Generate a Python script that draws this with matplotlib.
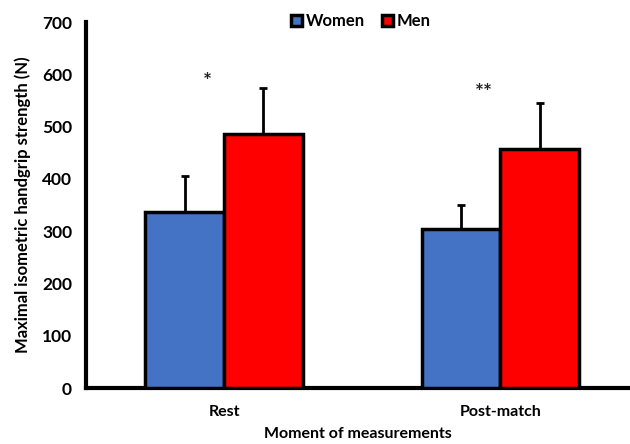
import matplotlib.pyplot as plt
import numpy as np

plt.rcParams['font.family'] = ['Lato', 'DejaVu Sans']
plt.rcParams['font.weight'] = 'bold'
plt.rcParams['axes.labelweight'] = 'bold'

# data
moments = ['Rest', 'Post-match']
women = [337, 304]
women_sd = [69, 47]
men = [487, 458]
men_sd = [88, 88]
stars = ['*', '**']
star_y = [585, 565]

fig = plt.figure(figsize=(6.3, 4.44), dpi=100)
ax = fig.add_axes([0.1365, 0.126, 0.8635, 0.824])

x = np.arange(len(moments))
w = 0.285
ax.bar(x - w / 2, women, w, color='#4472C4', edgecolor='black', linewidth=2.5,
       label='Women', zorder=3)
ax.bar(x + w / 2, men, w, color='#FF0000', edgecolor='black', linewidth=2.5,
       label='Men', zorder=3)
ax.errorbar(x - w / 2, women, yerr=[np.zeros(2), women_sd], fmt='none',
            ecolor='black', elinewidth=2, capsize=3, capthick=2, zorder=2)
ax.errorbar(x + w / 2, men, yerr=[np.zeros(2), men_sd], fmt='none',
            ecolor='black', elinewidth=2, capsize=3, capthick=2, zorder=2)

for i, s in enumerate(stars):
    ax.text(x[i] - 0.06, star_y[i], s, ha='center', va='center', fontsize=15,
            color='#222222')

ax.set_xlim(-0.5, 1.47)
ax.set_ylim(0, 700)
ax.set_yticks(range(0, 701, 100))
ax.set_xticks(x)
ax.set_xticklabels(moments, fontsize=11.5)
ax.tick_params(axis='y', labelsize=12.5, length=0, pad=10)
ax.tick_params(axis='x', length=0, pad=12)
ax.spines['top'].set_visible(False)
ax.spines['right'].set_visible(False)
ax.spines['left'].set_linewidth(3)
ax.spines['bottom'].set_linewidth(3)

ax.set_ylabel('Maximal isometric handgrip strength (N)', fontsize=12, labelpad=8)
ax.set_xlabel('Moment of measurements', fontsize=11.5, labelpad=6)

leg = ax.legend(loc='upper center', bbox_to_anchor=(0.505, 1.065), ncol=2,
                frameon=False, fontsize=12, handlelength=0.7, handleheight=0.7,
                handletextpad=0.2, columnspacing=1.0)

fig.savefig('out.png', dpi=100)
